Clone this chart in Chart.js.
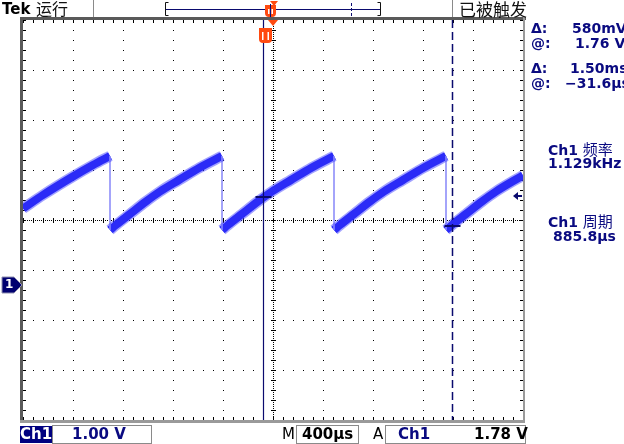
<!DOCTYPE html>
<html><head><meta charset="utf-8">
<script src="https://cdn.jsdelivr.net/npm/chart.js@4/dist/chart.umd.min.js"></script>
<style>
html,body{margin:0;padding:0;background:#fff;}
#wrap{position:relative;width:624px;height:444px;overflow:hidden;background:#fff;}
canvas{position:absolute;left:0;top:0;}
.t{position:absolute;white-space:nowrap;line-height:1;}
.nv{color:#0a0a80;font-family:"DejaVu Sans";font-weight:bold;font-size:14px;}
.cjk{font-family:"Noto Sans CJK SC";font-weight:400;}
.box{position:absolute;box-sizing:border-box;border:1px solid #8a8a8a;background:#fff;}
</style></head>
<body><div id="wrap"><canvas id="c" width="624" height="444"></canvas>
<div class="t" style="left:2px;top:2px;font-family:'DejaVu Sans';font-weight:bold;font-size:15px;color:#000;">Tek</div>
<div class="t cjk" style="left:36px;top:0px;font-size:16px;color:#111;">运行</div>
<div class="t cjk" style="left:459px;top:0px;font-size:17px;color:#111;">已被触发</div>

<div class="t nv" style="left:531px;top:21px;">Δ:</div>
<div class="t nv" style="left:572px;top:21px;">580mV</div>
<div class="t nv" style="left:531px;top:36px;">@:</div>
<div class="t nv" style="left:575px;top:36px;">1.76 V</div>
<div class="t nv" style="left:531px;top:61px;">Δ:</div>
<div class="t nv" style="left:570px;top:61px;">1.50ms</div>
<div class="t nv" style="left:531px;top:76px;">@:</div>
<div class="t nv" style="left:565px;top:76px;">−31.6µs</div>

<div class="t nv" style="left:548px;top:141px;">Ch1 <span class="cjk" style="font-weight:400;font-size:15px;">频率</span></div>
<div class="t nv" style="left:548px;top:156px;">1.129kHz</div>
<div class="t nv" style="left:548px;top:213px;">Ch1 <span class="cjk" style="font-weight:400;font-size:15px;">周期</span></div>
<div class="t nv" style="left:553px;top:229px;">885.8µs</div>

<div class="t" id="gnd" style="left:5px;top:278px;font-family:'DejaVu Sans';font-weight:bold;font-size:12px;color:#fff;">1</div>

<div class="t" style="left:20px;top:426px;width:32px;height:17px;background:#000080;"></div>
<div class="t" style="left:20px;top:427px;font-family:'DejaVu Sans';font-weight:bold;font-size:15px;color:#fff;">Ch1</div>
<div class="box" style="left:52px;top:425px;width:100px;height:19px;"></div>
<div class="t" style="left:72px;top:427px;font-family:'DejaVu Sans';font-weight:bold;font-size:15px;color:#0a0a80;">1.00 V</div>
<div class="t" style="left:282px;top:427px;font-family:'DejaVu Sans';font-size:15px;color:#000;">M</div>
<div class="box" style="left:296px;top:425px;width:63px;height:19px;"></div>
<div class="t" style="left:302px;top:427px;font-family:'DejaVu Sans';font-weight:bold;font-size:15px;color:#000;">400µs</div>
<div class="t" style="left:373px;top:427px;font-family:'DejaVu Sans';font-size:15px;color:#000;">A</div>
<div class="box" style="left:385px;top:425px;width:141px;height:19px;"></div>
<div class="t" style="left:398px;top:427px;font-family:'DejaVu Sans';font-weight:bold;font-size:15px;color:#0a0a80;">Ch1</div>
<div class="t" style="left:474px;top:427px;font-family:'DejaVu Sans';font-weight:bold;font-size:15px;color:#000;">1.78 V</div>
</div>
<script>
const timeUs = [
  -2000, -1840, -1600, -1440, -1304,
  -1304, -1256, -1144, -1016, -904, -752, -584, -408,
  -408, -360, -248, -120, -8, 144, 312, 488,
  488, 536, 648, 776, 888, 1040, 1208, 1384,
  1384, 1432, 1544, 1672, 1784, 1936, 2000
];
const ch1Volts = [
  1.53, 1.80, 2.17, 2.40, 2.58,
  1.10, 1.20, 1.42, 1.67, 1.87, 2.10, 2.35, 2.58,
  1.10, 1.20, 1.42, 1.67, 1.87, 2.10, 2.35, 2.58,
  1.10, 1.20, 1.42, 1.67, 1.87, 2.10, 2.35, 2.58,
  1.10, 1.20, 1.42, 1.67, 1.87, 2.10, 2.19
];
const cursorTimesUs = [-80, 1432];
const cursorVolts = [1.76, 1.18];
const triggerLevelV = 1.78;
const groundV = 0;
const voltsPerDiv = 1.0;
const usPerDiv = 400;
const centerV = 1.3;
const xRange = [-2000, 2000];
const yRange = [centerV - 4 * voltsPerDiv, centerV + 4 * voltsPerDiv];

const NAVY = '#0a0a6e';
const ORANGE = '#ff4a10';

// split the record into ramps (smooth) and fall edges (thin)
const ramps = [[]];
const falls = [];
for (let i = 0; i < timeUs.length; i++) {
  const p = {x: timeUs[i], y: ch1Volts[i]};
  if (i > 0 && ch1Volts[i] < ch1Volts[i - 1] - 0.3) {
    falls.push({x: timeUs[i - 1], y: ch1Volts[i - 1]}, p, {x: timeUs[i], y: null});
    ramps.push([]);
  }
  ramps[ramps.length - 1].push(p);
}

const datasets = [];
ramps.forEach(r => datasets.push({
  data: r, borderColor: 'rgba(70,70,255,0.5)', borderWidth: 11, pointRadius: 0,
  cubicInterpolationMode: 'monotone', borderCapStyle: 'butt'
}));
datasets.push({data: falls, borderColor: '#a4a4fa', borderWidth: 2, pointRadius: 0, spanGaps: false});
ramps.forEach(r => datasets.push({
  data: r, borderColor: '#1010ee', borderWidth: 8, pointRadius: 0,
  cubicInterpolationMode: 'monotone', borderCapStyle: 'butt'
}));

function orangeT(ctx, x0, y0, w, h) {
  ctx.fillStyle = ORANGE;
  ctx.beginPath();
  ctx.moveTo(x0, y0);
  ctx.lineTo(x0 + w, y0);
  ctx.lineTo(x0 + w, y0 + h - 4);
  ctx.quadraticCurveTo(x0 + w, y0 + h, x0 + w - 4, y0 + h);
  ctx.lineTo(x0 + 4, y0 + h);
  ctx.quadraticCurveTo(x0, y0 + h, x0, y0 + h - 4);
  ctx.closePath();
  ctx.fill();
  ctx.fillStyle = '#fff';
  ctx.fillRect(x0 + 3, y0 + 4, 1.5, h - 7);
  ctx.fillRect(x0 + w - 4.5, y0 + 4, 1.5, h - 7);
}

const scopePlugin = {
  id: 'scope',
  beforeDatasetsDraw(chart) {
    const {ctx, chartArea: a, scales: {x, y}} = chart;
    const L = Math.round(a.left), R = Math.round(a.right), T = Math.round(a.top), B = Math.round(a.bottom);
    const cx = Math.round(x.getPixelForValue(0));
    const cy = Math.round(y.getPixelForValue(centerV));
    ctx.save();
    ctx.fillStyle = '#000';
    for (let k = 1; k < 10; k++) {
      if (k === 5) continue;
      const px = Math.round(x.getPixelForValue(xRange[0] + k * usPerDiv));
      for (let j = 0; j <= 40; j++) {
        const py = Math.round(y.getPixelForValue(yRange[0] + j * voltsPerDiv / 5));
        ctx.fillRect(px, py, 1, 1);
      }
    }
    for (let k = 1; k < 8; k++) {
      if (k === 4) continue;
      const py = Math.round(y.getPixelForValue(yRange[0] + k * voltsPerDiv));
      for (let j = 0; j <= 50; j++) {
        const px = Math.round(x.getPixelForValue(xRange[0] + j * usPerDiv / 5));
        ctx.fillRect(px, py, 1, 1);
      }
    }
    for (let px = L; px <= R; px += 2) ctx.fillRect(px, cy, 1, 1);
    for (let py = T; py <= B; py += 2) ctx.fillRect(cx, py, 1, 1);
    for (let j = 0; j <= 50; j++) {
      const px = Math.round(x.getPixelForValue(xRange[0] + j * usPerDiv / 5));
      ctx.fillRect(px, cy - 2, 1, 5);
    }
    for (let j = 0; j <= 40; j++) {
      const py = Math.round(y.getPixelForValue(yRange[0] + j * voltsPerDiv / 5));
      ctx.fillRect(cx - 2, py, 5, 1);
    }
    for (let j = 0; j <= 50; j++) {
      const px = Math.round(x.getPixelForValue(xRange[0] + j * usPerDiv / 5));
      ctx.fillRect(px, T, 1, 3);
      ctx.fillRect(px, B - 3, 1, 3);
    }
    for (let j = 0; j <= 40; j++) {
      const py = Math.round(y.getPixelForValue(yRange[0] + j * voltsPerDiv / 5));
      ctx.fillRect(L, py, 3, 1);
      ctx.fillRect(R - 3, py, 3, 1);
    }
    ctx.fillStyle = '#5a5a5a';
    ctx.fillRect(L - 3, T - 3, R - L + 6, 3);
    ctx.fillRect(L - 3, T - 3, 3, B - T + 6);
    ctx.fillStyle = '#9a9a9a';
    ctx.fillRect(R, T - 3, 2, B - T + 6);
    ctx.fillRect(L - 3, B, R - L + 5, 3);
    ctx.restore();
  },
  afterDatasetsDraw(chart) {
    const {ctx, chartArea: a, scales: {x, y}} = chart;
    const T = a.top, B = a.bottom, L = a.left, R = a.right;
    ctx.save();
    const c1 = Math.round(x.getPixelForValue(cursorTimesUs[0])) + 0.5;
    const c2 = Math.round(x.getPixelForValue(cursorTimesUs[1])) + 0.5;
    ctx.strokeStyle = NAVY;
    ctx.lineWidth = 1.2;
    ctx.beginPath(); ctx.moveTo(c1, T); ctx.lineTo(c1, B); ctx.stroke();
    ctx.lineWidth = 1.5;
    ctx.setLineDash([8, 4]);
    ctx.beginPath(); ctx.moveTo(c2, T); ctx.lineTo(c2, B); ctx.stroke();
    ctx.setLineDash([]);
    ctx.lineWidth = 2;
    const h1 = y.getPixelForValue(cursorVolts[0]);
    const h2 = y.getPixelForValue(cursorVolts[1]);
    ctx.beginPath(); ctx.moveTo(c1 - 8, h1); ctx.lineTo(c1 + 8, h1); ctx.stroke();
    ctx.beginPath(); ctx.moveTo(c2 - 8, h2); ctx.lineTo(c2 + 8, h2); ctx.stroke();
    const ty = y.getPixelForValue(triggerLevelV);
    ctx.fillStyle = NAVY;
    ctx.beginPath(); ctx.moveTo(R - 10, ty); ctx.lineTo(R - 5, ty - 4); ctx.lineTo(R - 5, ty + 4); ctx.closePath(); ctx.fill();
    ctx.fillRect(R - 6, ty - 1, 5, 2);
    const gy = y.getPixelForValue(groundV);
    ctx.fillStyle = '#000070';
    ctx.strokeStyle = '#9090b0';
    ctx.lineWidth = 1;
    ctx.beginPath();
    ctx.moveTo(2, gy - 8); ctx.lineTo(14, gy - 8); ctx.lineTo(L - 1, gy); ctx.lineTo(14, gy + 8); ctx.lineTo(2, gy + 8); ctx.closePath();
    ctx.fill(); ctx.stroke();
    const tx = Math.round(x.getPixelForValue(0));
    ctx.fillStyle = ORANGE;
    ctx.beginPath(); ctx.moveTo(tx - 5, T); ctx.lineTo(tx + 5, T); ctx.lineTo(tx, T + 6); ctx.closePath(); ctx.fill();
    orangeT(ctx, tx - 14, T + 8, 13, 15);
    ctx.fillStyle = '#8a8a8a';
    ctx.fillRect(93, 0, 1, 17);
    ctx.fillRect(452, 0, 1, 17);
    ctx.strokeStyle = '#111';
    ctx.lineWidth = 1;
    ctx.beginPath(); ctx.moveTo(168.5, 2.5); ctx.lineTo(165.5, 2.5); ctx.lineTo(165.5, 15.5); ctx.lineTo(168.5, 15.5); ctx.stroke();
    ctx.beginPath(); ctx.moveTo(377.5, 2.5); ctx.lineTo(380.5, 2.5); ctx.lineTo(380.5, 15.5); ctx.lineTo(377.5, 15.5); ctx.stroke();
    ctx.strokeStyle = NAVY;
    ctx.beginPath(); ctx.moveTo(166, 9.5); ctx.lineTo(380, 9.5); ctx.stroke();
    ctx.setLineDash([3, 2]);
    ctx.beginPath(); ctx.moveTo(351.5, 3); ctx.lineTo(351.5, 16); ctx.stroke();
    ctx.setLineDash([]);
    orangeT(ctx, 265, 5, 11, 12);
    ctx.fillStyle = ORANGE;
    ctx.beginPath(); ctx.moveTo(270, 1); ctx.lineTo(278, 1); ctx.lineTo(274, 6); ctx.closePath(); ctx.fill();
    ctx.strokeStyle = NAVY;
    ctx.beginPath(); ctx.moveTo(270.5, 4); ctx.lineTo(270.5, 17); ctx.stroke();
    ctx.strokeStyle = '#000';
    ctx.lineWidth = 2;
    ctx.beginPath(); ctx.moveTo(438, 440); ctx.lineTo(442, 440); ctx.lineTo(444, 429); ctx.lineTo(449, 429); ctx.stroke();
    ctx.restore();
  }
};

new Chart(document.getElementById('c'), {
  type: 'line',
  data: {datasets},
  options: {
    responsive: false,
    animation: false,
    events: [],
    layout: {padding: {left: 23, right: 101, top: 20, bottom: 24}},
    plugins: {legend: {display: false}, tooltip: {enabled: false}},
    scales: {
      x: {type: 'linear', min: xRange[0], max: xRange[1], display: false},
      y: {type: 'linear', min: yRange[0], max: yRange[1], display: false}
    }
  },
  plugins: [scopePlugin]
});
</script>
</body></html>
